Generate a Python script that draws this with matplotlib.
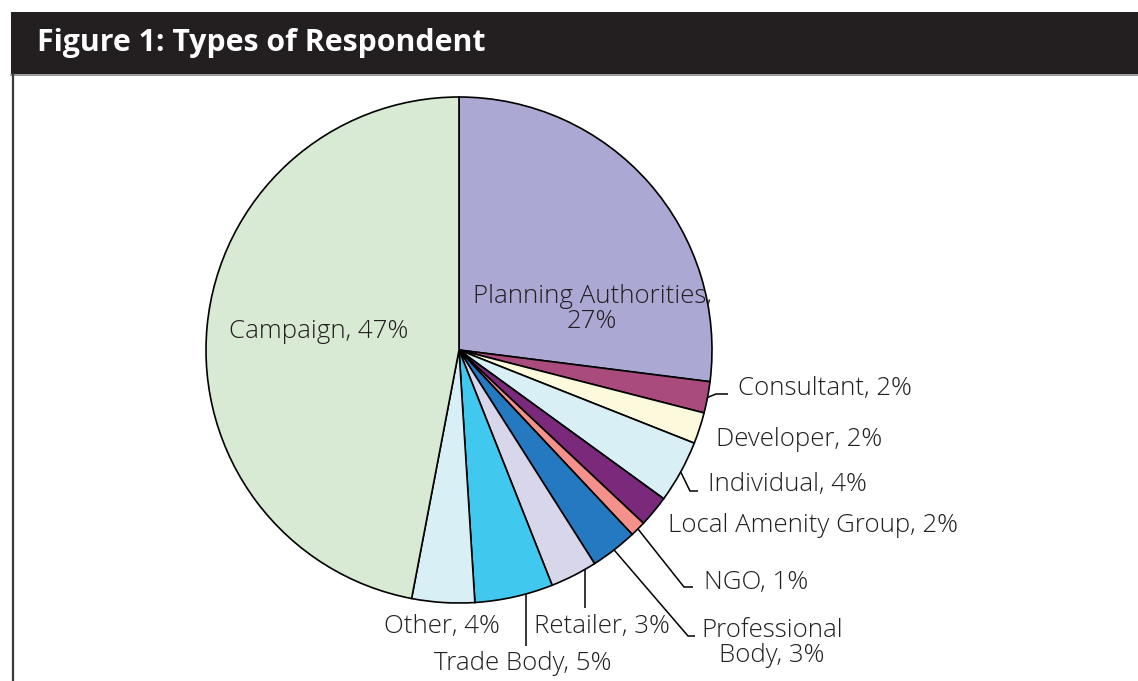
import matplotlib

matplotlib.use("Agg")
import matplotlib.pyplot as plt
from matplotlib.patches import Rectangle
import numpy as np

plt.rcParams["font.family"] = ["Open Sans", "DejaVu Sans"]

# respondent types, clockwise from 12 o'clock
labels = ["Planning Authorities", "Consultant", "Developer", "Individual",
          "Local Amenity Group", "NGO", "Professional\nBody", "Retailer",
          "Trade Body", "Other", "Campaign"]
shares = [27, 2, 2, 4, 2, 1, 3, 3, 5, 4, 47]
colors = ["#aba8d4", "#a94b7c", "#fcf9dc", "#d9eff6", "#7b2a7b", "#f4918b",
          "#2479c0", "#d7d6ea", "#41c8ef", "#d9eff6", "#d8ead3"]

W, H = 1138, 681
CX, CY, R = 459, 350, 253          # pie centre / radius in pixels


def px(x, y):
    """pixel position (from top-left) -> pie data coords"""
    return (x - CX) / R, (CY - y) / R


fig = plt.figure(figsize=(W / 100, H / 100), dpi=100)
fig.patch.set_facecolor("white")

# header bar + frame
fig.patches.append(Rectangle((11 / W, 1 - 74 / H), 1 - 11 / W, 62 / H,
                             transform=fig.transFigure, facecolor="#231f20",
                             edgecolor="none"))
fig.lines.append(plt.Line2D([11 / W, 1], [1 - 74.5 / H] * 2, transform=fig.transFigure,
                            color="#8a8a8a", lw=1.2))
fig.lines.append(plt.Line2D([12.5 / W] * 2, [0, 1 - 74 / H], transform=fig.transFigure,
                            color="#3a3a3a", lw=1.6))
fig.text(37 / W, 1 - 43 / H, "Figure 1: Types of Respondent", color="white",
         fontsize=21.8, fontweight="bold", va="center", ha="left")

ax = fig.add_axes([(CX - R) / W, (H - CY - R) / H, 2 * R / W, 2 * R / H])

wedges, _ = ax.pie(shares, colors=colors, startangle=90, counterclock=False, radius=1,
                   wedgeprops=dict(edgecolor="black", linewidth=1.2))
ax.set_xlim(-1, 1)
ax.set_ylim(-1, 1)
ax.set_aspect("equal")
ax.axis("off")

FS = 18.6
TXT = "#231f20"
TW = 300


def text_for(i):
    return f"{labels[i]}, {shares[i]}%"


# labels inside the two big slices
x, y = px(592, 309)
ax.text(x, y, f"{labels[0]},\n{shares[0]}%", ha="center", va="center",
        fontsize=FS, color=TXT, linespacing=0.95, fontweight=TW)
x, y = px(319, 332)
ax.text(x, y, text_for(10), ha="center", va="center", fontsize=FS, color=TXT,
        fontweight=TW)

# outside labels: index, text anchor px, ha, elbow px (or None), leader end px (or None)
# an elbow with no end point means a straight drop from the rim
outside = [
    (1, (738, 388), "left", (716, 394), (728, 394)),
    (2, (716, 440), "left", None, None),
    (3, (708, 484), "left", (690, 491), (698, 491)),
    (4, (668, 525), "left", None, None),
    (5, (704, 582), "left", (684, 587), (693, 587)),
    (6, (772, 643), "center", (688, 636), (695, 636)),
    (7, (602, 626), "center", (585, 608), None),
    (8, (523, 664), "center", (526, 646), None),
    (9, (442, 626), "center", None, None),
]

for i, tp, ha, elbow, end in outside:
    tx, ty = px(*tp)
    ax.text(tx, ty, text_for(i), ha=ha, va="center", fontsize=FS, color=TXT,
            linespacing=0.95, clip_on=False, fontweight=TW)
    if elbow is None:
        continue
    ex, ey = px(*elbow)
    if end is None:
        # vertical tick straight down from the rim
        pts = [(ex, -np.sqrt(1 - ex ** 2)), (ex, ey)]
    else:
        w = wedges[i]
        mid = np.deg2rad((w.theta1 + w.theta2) / 2)
        pts = [(np.cos(mid), np.sin(mid)), (ex, ey), px(*end)]
    xs, ys = zip(*pts)
    ax.plot(xs, ys, color="black", lw=1.1, clip_on=False, solid_capstyle="butt")

fig.savefig("out.png", dpi=100, facecolor="white")
